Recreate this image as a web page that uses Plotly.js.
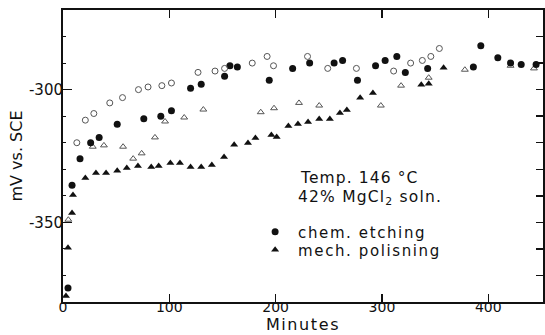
<!DOCTYPE html>
<html>
<head>
<meta charset="utf-8">
<script src="https://cdn.plot.ly/plotly-3.0.1.min.js"></script>
<style>html,body{margin:0;padding:0;background:#fff;}#chart{width:545px;height:335px;}</style>
</head>
<body>
<div id="chart"></div>
<script>
// chem. etching (filled circles)
const chemX = [4.7, 8.5, 16, 26, 34, 51, 76, 92, 102, 120, 130, 152, 157, 164, 194, 216, 232, 255, 263, 277, 294, 303, 314, 322, 343, 386, 393, 409, 421, 431, 445];
const chemY = [-374.7, -336, -326, -320, -318, -313, -311, -310, -308, -299.5, -298, -295, -291, -291.5, -296.5, -292, -290, -290, -289, -296.5, -291, -289, -287.5, -293.5, -292, -291.5, -283.5, -288, -290, -290.5, -290.5];
// chem. etching, second run (open circles)
const chemOpenX = [13, 21, 29, 44, 56, 71, 80, 93, 102, 127, 143, 152, 178, 192, 198, 230, 249, 276, 311, 327, 338, 346, 354];
const chemOpenY = [-320, -311.5, -309, -305, -303, -300, -299, -298.5, -297.5, -293.5, -293, -292, -290, -287.5, -291, -287.5, -292, -292, -293, -290, -289, -287.5, -284.5];
// mech. polishing (filled triangles)
const mechX = [2.8, 4.7, 8.5, 9.4, 21, 31, 40.5, 51, 60, 70.5, 83, 90, 101, 110, 120, 130, 140, 151.5, 161, 174, 181, 196, 201, 212, 221, 230.5, 241, 251, 260.5, 267, 279.5, 291.5, 337, 344, 358];
const mechY = [-377.7, -359.6, -346.5, -339.7, -333.3, -331.4, -331.4, -330.6, -329.5, -328.8, -329.1, -328.8, -327.6, -327.6, -329.1, -329.1, -328.4, -325.4, -320.8, -320.1, -318.2, -317.1, -317.8, -313.7, -312.9, -312.2, -311.1, -311.1, -308.8, -307.7, -303.1, -301.3, -298.2, -297.8, -291.8];
// mech. polishing, second run (open triangles)
const mechOpenX = [5, 28, 38.5, 56.5, 66, 74, 86.5, 96, 114, 132, 186, 198.5, 222, 241, 299, 318, 344, 378, 421, 443];
const mechOpenY = [-349, -321.5, -321, -321.5, -326, -324, -318, -312, -310.5, -307.5, -308.5, -307, -305, -306, -306, -298.5, -295.5, -292.5, -291, -292];

const xTickVals = [0, 100, 200, 300, 400];
const xTickText = ['0', '100', '200', '300', '400'];
const yTickVals = [-350, -300];
const yTickText = ['-350', '-300'];

const FONT = 'DejaVu Sans, sans-serif';
const INK = '#111';
const SP = (s, px) => '<span style="letter-spacing:' + (px || 1.6) + 'px">' + s + '</span>';

const traces = [
  {x: chemOpenX, y: chemOpenY, type: 'scatter', mode: 'markers', showlegend: false, yaxis: 'y2',
   marker: {symbol: 'circle-open', size: 6, color: '#555', line: {width: 1, color: '#555'}}},
  {x: mechOpenX, y: mechOpenY, type: 'scatter', mode: 'markers', showlegend: false,
   marker: {symbol: 'triangle-up-open', size: 6, color: '#555', line: {width: 1, color: '#555'}}},
  {x: chemX, y: chemY, type: 'scatter', mode: 'markers', name: SP('chem. etching'), legend: 'legend',
   marker: {symbol: 'circle', size: 7, color: INK}},
  {x: mechX, y: mechY, type: 'scatter', mode: 'markers', name: SP('mech. polisning'), legend: 'legend2',
   marker: {symbol: 'triangle-up', size: 7, color: INK}}
];

const legendBase = {xanchor: 'left', yanchor: 'middle', bgcolor: 'rgba(0,0,0,0)', borderwidth: 0,
                    font: {family: FONT, size: 15, color: INK}, itemwidth: 36};

const layout = {
  width: 545, height: 335,
  margin: {l: 63, r: 2, t: 10, b: 33},
  paper_bgcolor: '#fff', plot_bgcolor: '#fff',
  font: {family: FONT, size: 15, color: INK},
  showlegend: true,
  legend: Object.assign({x: 0.394, y: 0.240}, legendBase),
  legend2: Object.assign({x: 0.394, y: 0.178}, legendBase),
  xaxis: {
    range: [0, 451.5], showgrid: false, zeroline: false,
    showline: true, linecolor: INK, linewidth: 2, mirror: 'ticks',
    ticks: 'inside', ticklen: 8, tickwidth: 1.5, tickcolor: INK,
    tickmode: 'array', tickvals: xTickVals, ticktext: xTickText,
    ticklabelstandoff: -9,
    tickfont: {family: FONT, size: 14, color: INK},
    title: {text: SP('Minutes'), font: {family: FONT, size: 16, color: INK}, standoff: 1}
  },
  yaxis: {
    range: [-380, -270], showgrid: false, zeroline: false,
    showline: true, linecolor: INK, linewidth: 2,
    ticks: 'inside', ticklen: 9, tickwidth: 1.5, tickcolor: INK,
    tickmode: 'array', tickvals: yTickVals, ticktext: yTickText,
    ticklabelstandoff: -5,
    tickfont: {family: FONT, size: 15, color: INK},
    minor: {tickmode: 'linear', tick0: -380, dtick: 10, ticks: 'inside', ticklen: 3, tickcolor: INK, tickwidth: 1},
    title: {text: 'mV vs. SCE', font: {family: FONT, size: 16, color: INK}, standoff: 2}
  },
  yaxis2: {
    range: [-380, -270], overlaying: 'y', side: 'right', anchor: 'x',
    showgrid: false, zeroline: false, showline: true, linecolor: INK, linewidth: 2,
    ticks: 'inside', ticklen: 7, tickwidth: 1.5, tickcolor: INK,
    tickmode: 'linear', tick0: -380, dtick: 10, showticklabels: false
  },
  annotations: [
    {xref: 'paper', yref: 'paper', x: 0.49, y: 0.425, xanchor: 'left', yanchor: 'middle', showarrow: false,
     text: SP('Temp. 146 °C', 1.1), font: {family: FONT, size: 15.5, color: INK}},
    {xref: 'paper', yref: 'paper', x: 0.485, y: 0.356, xanchor: 'left', yanchor: 'middle', showarrow: false,
     text: SP('42% MgCl<sub>2</sub> soln.', 1.2), font: {family: FONT, size: 15.5, color: INK}}
  ]
};

Plotly.newPlot('chart', traces, layout, {displayModeBar: false, staticPlot: true});
</script>
</body>
</html>
